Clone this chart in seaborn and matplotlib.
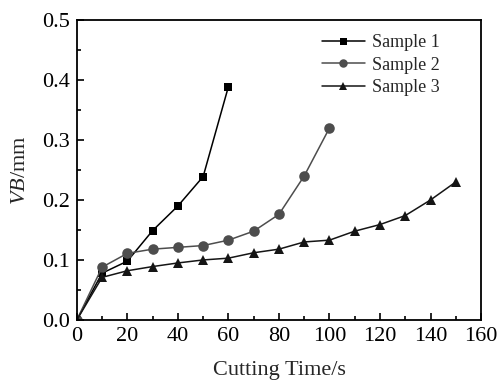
import seaborn
import matplotlib.pyplot as pyplot
from matplotlib.ticker import MultipleLocator

time_1 = [0, 10, 20, 30, 40, 50, 60]
vb_1 = [0.0, 0.078, 0.098, 0.149, 0.19, 0.239, 0.389]
time_2 = [0, 10, 20, 30, 40, 50, 60, 70, 80, 90, 100]
vb_2 = [0.0, 0.088, 0.111, 0.118, 0.121, 0.124, 0.133, 0.148, 0.176, 0.24, 0.32]
time_3 = [0, 10, 20, 30, 40, 50, 60, 70, 80, 90, 100, 110, 120, 130, 140, 150]
vb_3 = [0.0, 0.071, 0.082, 0.089, 0.095, 0.1, 0.103, 0.112, 0.118, 0.13, 0.133,
        0.148, 0.159, 0.174, 0.2, 0.23]
names = ["Sample 1", "Sample 2", "Sample 3"]

seaborn.set_style("ticks")
pyplot.rcParams["font.family"] = ["Liberation Serif", "DejaVu Serif"]
pyplot.rcParams["mathtext.fontset"] = "custom"
pyplot.rcParams["mathtext.it"] = "Liberation Serif:italic"
pyplot.rcParams["mathtext.rm"] = "Liberation Serif"

fig = pyplot.figure(figsize=(4.99, 3.85), dpi=100)
ax = fig.add_subplot()

seaborn.lineplot(x=time_1, y=vb_1, label=names[0], color="#000000", marker="s",
                 markersize=6.3, markeredgewidth=0, linewidth=1.1, ax=ax)
seaborn.lineplot(x=time_2, y=vb_2, label=names[1], color="#4d4d4d", marker="o",
                 markersize=7.6, markeredgewidth=0, linewidth=1.1, ax=ax)
seaborn.lineplot(x=time_3, y=vb_3, label=names[2], color="#151515", marker="^",
                 markersize=7.6, markeredgewidth=0, linewidth=1.1, ax=ax)

ax.set_xlim(0, 160)
ax.set_ylim(0, 0.5)
ax.xaxis.set_major_locator(MultipleLocator(20))
ax.xaxis.set_minor_locator(MultipleLocator(10))
ax.yaxis.set_major_locator(MultipleLocator(0.1))
ax.yaxis.set_minor_locator(MultipleLocator(0.05))
ax.tick_params(which="both", direction="in", colors="black", labelsize=16, width=1.2)
ax.tick_params(which="major", length=5, pad=5)
ax.tick_params(which="minor", length=3)
for s in ax.spines.values():
    s.set_linewidth(1.3)
    s.set_color("black")

ax.set_xlabel("Cutting Time/s", fontsize=16, labelpad=11)
ax.set_ylabel("$VB$/mm", fontsize=16, labelpad=9)

ax.legend(frameon=False, fontsize=13, loc="upper right", handlelength=2.4,
          handletextpad=0.4, labelspacing=0.3, borderaxespad=0.3,
          markerscale=0.8, bbox_to_anchor=(0.93, 0.995))

fig.subplots_adjust(left=0.154, right=0.964, bottom=0.169, top=0.948)
fig.savefig("out.png", dpi=100)
